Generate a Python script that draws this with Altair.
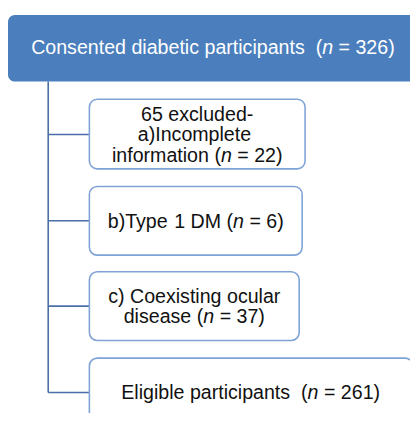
import re
import altair as alt
import pandas as pd

# ---- content ----
top_label = "Consented diabetic participants"
top_n = 326
excl_total = 65
excl_labels = [["a)Incomplete", "information"], ["b)Type 1 DM"], ["c) Coexisting ocular", "disease"]]
excl_n = [22, 6, 37]
elig_label = "Eligible participants"
elig_n = 261

# ---- layout (page pixels) ----
top_box = dict(x=8, x2=430, y=11, y2=79)
box_x = [91, 91, 91, 91]
box_x2 = [311, 308, 305, 421]
box_y = [97, 186, 273, 361]
box_y2 = [168, 256, 343, 470]
conn_y = [133, 221, 308, 396]
trunk_x = 49
FS = 20
LH = 20.5

AW = {' ': 278, '(': 333, ')': 333, '-': 333, '=': 584}
for d in '0123456789':
    AW[d] = 556
AW.update({'a': 556, 'b': 556, 'c': 500, 'd': 556, 'e': 556, 'f': 278, 'g': 556, 'h': 556,
           'i': 222, 'j': 222, 'k': 500, 'l': 222, 'm': 833, 'n': 556, 'o': 556, 'p': 556,
           'q': 556, 'r': 333, 's': 500, 't': 278, 'u': 556, 'v': 500, 'w': 722, 'x': 500,
           'y': 500, 'z': 500, 'C': 722, 'D': 722, 'E': 667, 'M': 833, 'T': 611})


def tw(s):
    return sum(AW.get(c, 556) for c in s) * FS / 1000.0


segs = []


def add_line(line, cx, y, color):
    x0 = cx - tw(line) / 2
    for m in re.finditer(r'\S+', line):
        word = m.group()
        sx = x0 + tw(line[:m.start()])
        if word == '(n':
            segs.append(dict(t='(', x=sx, y=y, c=color, it=False))
            segs.append(dict(t='n', x=sx + tw('('), y=y, c=color, it=True))
        else:
            segs.append(dict(t=word, x=sx, y=y, c=color, it=False))


def add_block(lines, cx, cy, color):
    k = len(lines)
    for i, ln in enumerate(lines):
        base = cy + 7 + (i - (k - 1) / 2) * LH
        add_line(ln, cx, base, color)


add_block([f"{top_label}  (n = {top_n})"], 217, 44, "white")
blocks = [
    [f"{excl_total} excluded-"] + excl_labels[0][:-1] + [f"{excl_labels[0][-1]} (n = {excl_n[0]})"],
    [f"{excl_labels[1][0]} (n = {excl_n[1]})"],
    excl_labels[2][:-1] + [f"{excl_labels[2][-1]} (n = {excl_n[2]})"],
]
for i, b in enumerate(blocks):
    add_block(b, (box_x[i] + box_x2[i]) / 2, conn_y[i], "#111111")
add_block([f"{elig_label}  (n = {elig_n})"], 255.5, conn_y[3], "#111111")

seg_df = pd.DataFrame(segs)

W, H = 410, 409
xs = alt.Scale(domain=[8, 8 + W], nice=False, zero=False)
ys = alt.Scale(domain=[8, 8 + H], nice=False, zero=False, reverse=True)
X = lambda f: alt.X(f, type="quantitative", scale=xs, axis=None)
Y = lambda f: alt.Y(f, type="quantitative", scale=ys, axis=None)

top_df = pd.DataFrame([top_box])
topc = alt.Chart(top_df).mark_rect(fill="#4A7EBD", cornerRadius=7, clip=True).encode(
    x=X("x"), x2="x2", y=Y("y"), y2="y2")

box_df = pd.DataFrame(dict(x=box_x, x2=box_x2, y=box_y, y2=box_y2))
boxes = alt.Chart(box_df).mark_rect(fill="white", stroke="#7FA3D6", strokeWidth=1.6,
                                    cornerRadius=8, clip=True).encode(
    x=X("x"), x2="x2", y=Y("y"), y2="y2")

trunk_df = pd.DataFrame(dict(x=[trunk_x], y=[79], y2=[conn_y[-1]]))
trunk = alt.Chart(trunk_df).mark_rule(color="#4A6FA8", strokeWidth=1.6).encode(
    x=X("x"), y=Y("y"), y2="y2")

conn_df = pd.DataFrame(dict(x=[trunk_x] * 4, x2=box_x, y=conn_y))
conns = alt.Chart(conn_df).mark_rule(color="#4A6FA8", strokeWidth=1.6).encode(
    x=X("x"), x2="x2", y=Y("y"))

txt_n = alt.Chart(seg_df[~seg_df.it]).mark_text(
    align="left", baseline="alphabetic", fontSize=FS, font="Liberation Sans").encode(
    x=X("x"), y=Y("y"), text="t", color=alt.Color("c", scale=None))
txt_i = alt.Chart(seg_df[seg_df.it]).mark_text(
    align="left", baseline="alphabetic", fontSize=FS, font="Liberation Sans", fontStyle="italic").encode(
    x=X("x"), y=Y("y"), text="t", color=alt.Color("c", scale=None))

chart = alt.layer(trunk, conns, topc, boxes, txt_n, txt_i).properties(
    width=W, height=H, autosize=alt.AutoSizeParams(type="none"), padding=0
).configure_view(stroke=None)

chart.save("out.html", embed_options={"renderer": "svg", "actions": False})
